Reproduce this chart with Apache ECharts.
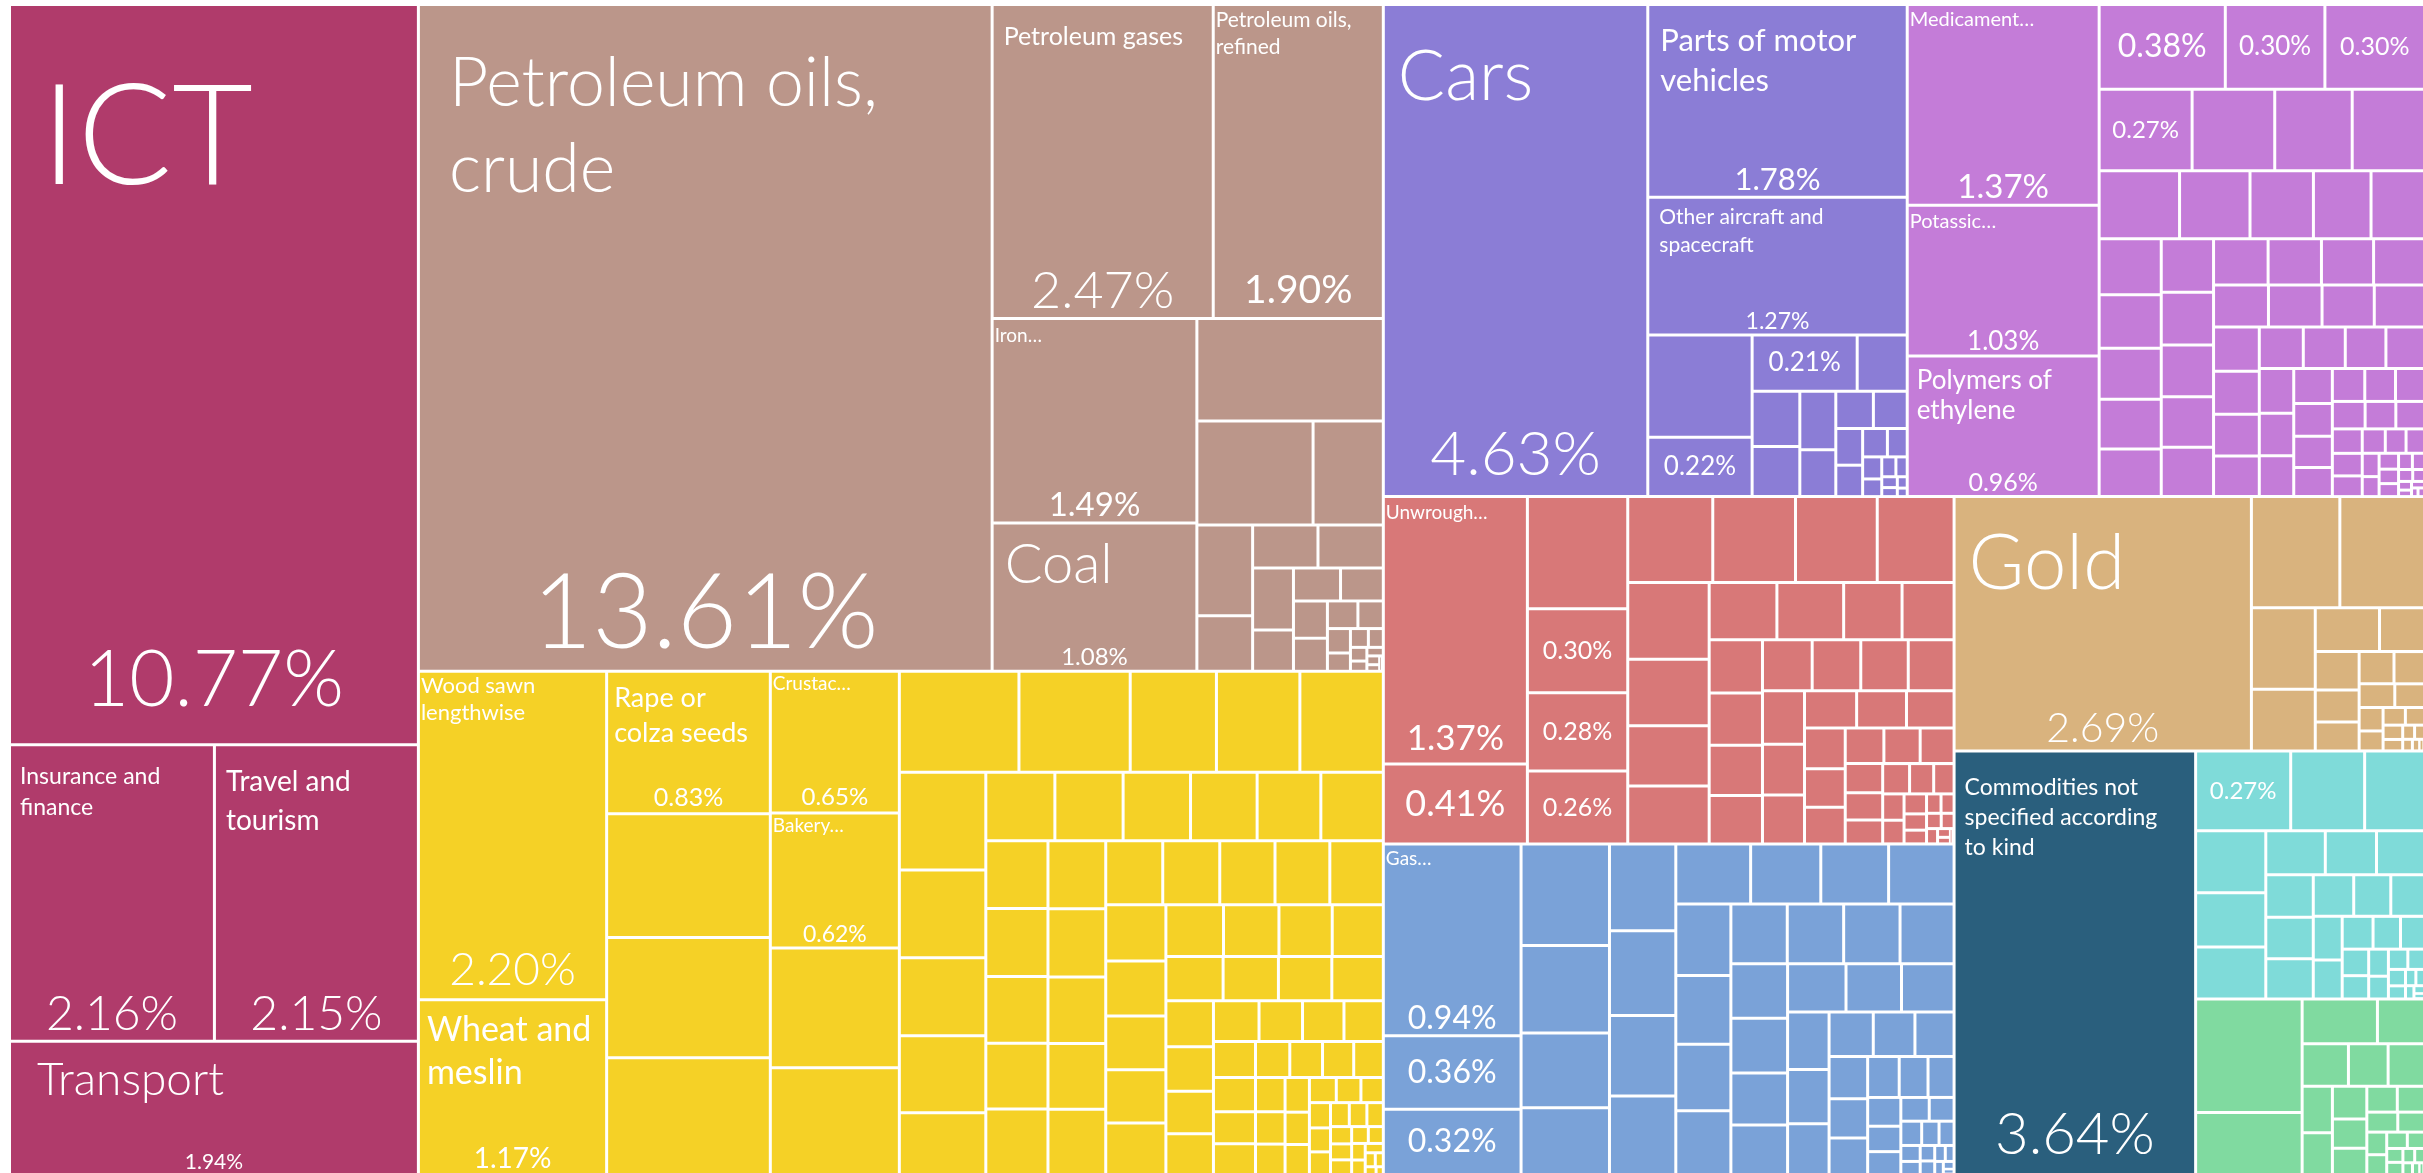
<!DOCTYPE html>
<html>
<head>
<meta charset="utf-8">
<title>Exports treemap</title>
<script src="https://cdn.jsdelivr.net/npm/echarts@6/dist/echarts.min.js"></script>
<style>
  html, body { margin: 0; padding: 0; background: #fff; }
  #chart { width: 2423px; height: 1173px; }
</style>
</head>
<body>
<div id="chart"></div>
<script>
// share of total exports, in %
const servicesNames = ['ICT', 'Insurance and\nfinance', 'Travel and\ntourism', 'Transport']
const servicesValues = [10.77, 2.16, 2.15, 1.94]

const mineralsNames = ['Petroleum oils,\ncrude', 'Petroleum gases', 'Petroleum oils,\nrefined', 'Iron…', 'Coal']
const mineralsValues = [13.61, 2.47, 1.90, 1.49, 1.08, 0.68, 0.43, 0.26, 0.18, 0.11, 0.10, 0.10, 0.09, 0.06, 0.055,
  0.05, 0.045, 0.04, 0.03, 0.025, 0.02, 0.015, 0.012, 0.01, 0.008, 0.006, 0.005, 0.004, 0.003, 0.002]

const vegetableNames = ['Wood sawn\nlengthwise', 'Wheat and\nmeslin', 'Rape or\ncolza seeds', '', '', '', 'Crustac…', 'Bakery…']
const vegetableValues = [2.20, 1.17, 0.83, 0.72, 0.70, 0.68, 0.65, 0.62, 0.55, 0.49, 0.43, 0.40, 0.31, 0.30, 0.30,
  0.30, 0.27, 0.24, 0.237, 0.19, 0.168, 0.166, 0.164, 0.162, 0.155, 0.152, 0.15, 0.15, 0.148, 0.145, 0.145, 0.14,
  0.14, 0.137, 0.135, 0.134, 0.13, 0.13, 0.126, 0.125, 0.122, 0.12, 0.118, 0.115, 0.114, 0.11, 0.106, 0.102, 0.098,
  0.094, 0.09, 0.087, 0.084, 0.081, 0.078, 0.075, 0.072, 0.069, 0.066, 0.063, 0.06, 0.057, 0.054, 0.051, 0.048,
  0.046, 0.044, 0.042, 0.04, 0.038, 0.036, 0.034, 0.032, 0.03, 0.028, 0.026, 0.024, 0.022, 0.02, 0.019, 0.018,
  0.017, 0.016, 0.015, 0.014, 0.013, 0.012, 0.011, 0.01, 0.009, 0.008, 0.007, 0.006, 0.005, 0.004, 0.003, 0.002]

const transportNames = ['Cars', 'Parts of motor\nvehicles', 'Other aircraft and\nspacecraft']
const transportValues = [4.63, 1.78, 1.27, 0.38, 0.22, 0.21, 0.10, 0.094, 0.085, 0.075, 0.06, 0.05, 0.045, 0.035,
  0.03, 0.025, 0.02, 0.015, 0.012, 0.01, 0.008, 0.006, 0.005, 0.004, 0.003]

const chemicalsNames = ['Medicament…', 'Potassic…', 'Polymers of\nethylene']
const chemicalsValues = [1.37, 1.03, 0.96, 0.38, 0.30, 0.30, 0.27, 0.24, 0.225, 0.21, 0.194, 0.17, 0.153, 0.139,
  0.129, 0.124, 0.118, 0.113, 0.11, 0.105, 0.10, 0.098, 0.096, 0.094, 0.092, 0.09, 0.088, 0.086, 0.084, 0.082, 0.08,
  0.078, 0.075, 0.072, 0.07, 0.068, 0.066, 0.065, 0.062, 0.06, 0.057, 0.055, 0.052, 0.05, 0.048, 0.045, 0.043, 0.04,
  0.038, 0.036, 0.034, 0.032, 0.03, 0.028, 0.026, 0.024, 0.022, 0.02, 0.018, 0.016, 0.014, 0.012, 0.011, 0.01,
  0.009, 0.008, 0.007, 0.006, 0.005, 0.004, 0.003, 0.003, 0.002, 0.002]

const metalsNames = ['Unwrough…']
const metalsValues = [1.37, 0.41, 0.40, 0.30, 0.28, 0.26, 0.26, 0.253, 0.25, 0.235, 0.222, 0.193, 0.174, 0.168,
  0.138, 0.136, 0.119, 0.106, 0.101, 0.099, 0.095, 0.092, 0.09, 0.088, 0.086, 0.083, 0.08, 0.076, 0.073, 0.069,
  0.066, 0.063, 0.059, 0.056, 0.053, 0.049, 0.046, 0.043, 0.039, 0.036, 0.032, 0.029, 0.026, 0.022, 0.02, 0.018,
  0.016, 0.013, 0.011, 0.01, 0.009, 0.008, 0.007, 0.006, 0.004, 0.003, 0.002]

const machineryNames = ['Gas…']
const machineryValues = [0.94, 0.36, 0.32, 0.32, 0.275, 0.235, 0.21, 0.205, 0.2, 0.19, 0.185, 0.16, 0.15, 0.145,
  0.14, 0.14, 0.135, 0.13, 0.125, 0.12, 0.12, 0.12, 0.115, 0.11, 0.11, 0.105, 0.1, 0.1, 0.095, 0.09, 0.085, 0.08,
  0.075, 0.07, 0.066, 0.062, 0.058, 0.054, 0.05, 0.046, 0.042, 0.038, 0.034, 0.03, 0.027, 0.024, 0.021, 0.018,
  0.015, 0.013, 0.011, 0.009, 0.008, 0.007, 0.006, 0.005, 0.004, 0.003, 0.002]

const goldNames = ['Gold']
const goldValues = [2.69, 0.35, 0.335, 0.185, 0.14, 0.1, 0.07, 0.06, 0.05, 0.045, 0.04, 0.035, 0.03, 0.025, 0.02,
  0.017, 0.014, 0.012, 0.01, 0.008, 0.006, 0.005, 0.004, 0.003, 0.002]

const commoditiesNames = ['Commodities not\nspecified according\nto kind']
const commoditiesValues = [3.64]

const plasticsNames = []
const plasticsValues = [0.27, 0.21, 0.17, 0.155, 0.135, 0.13, 0.093, 0.08, 0.075, 0.072, 0.07, 0.068, 0.06, 0.055,
  0.05, 0.045, 0.04, 0.036, 0.032, 0.028, 0.025, 0.022, 0.019, 0.016, 0.014, 0.012, 0.01, 0.008, 0.006, 0.005,
  0.004, 0.003, 0.002]

const instrumentsNames = []
const instrumentsValues = [0.43, 0.235, 0.12, 0.075, 0.07, 0.06, 0.055, 0.05, 0.045, 0.04, 0.036, 0.032, 0.028,
  0.025, 0.022, 0.019, 0.016, 0.014, 0.012, 0.01, 0.008, 0.007, 0.006, 0.005, 0.004, 0.003, 0.002]

const FONT = 'Lato, "Open Sans", sans-serif'

const services = { key: 'services', color: '#B03B6B', names: servicesNames, values: servicesValues }
const goodsSectors = [
  { key: 'minerals', color: '#BB968A', names: mineralsNames, values: mineralsValues },
  { key: 'vegetable', color: '#F5D126', names: vegetableNames, values: vegetableValues },
  { key: 'transport', color: '#8B7DD6', names: transportNames, values: transportValues },
  { key: 'chemicals', color: '#C47CD8', names: chemicalsNames, values: chemicalsValues },
  { key: 'metals', color: '#D87878', names: metalsNames, values: metalsValues },
  { key: 'machinery', color: '#7AA2D8', names: machineryNames, values: machineryValues },
  { key: 'gold', color: '#D9B37E', names: goldNames, values: goldValues },
  { key: 'commodities', color: '#2A5F7D', names: commoditiesNames, values: commoditiesValues },
  { key: 'plastics', color: '#7FDBD9', names: plasticsNames, values: plasticsValues },
  { key: 'instruments', color: '#80DAA0', names: instrumentsNames, values: instrumentsValues }
]

// label looks per cell index
// n: [fontSize, lineHeight, padTop, padLeft] for the name
// p: [fontSize, padBottom] for the share under it, c: fontSize of a centred share
const labelStyles = {
  services: {
    0: { n: [140, 170, 48, 30], p: [78, 24] },
    1: { n: [23, 31, 15, 9], p: [48, 1] },
    2: { n: [28, 39, 16, 10], p: [48, 1] },
    3: { n: [46, 55, 10, 26], p: [21, 0] }
  },
  minerals: {
    0: { n: [68, 86, 35, 29], p: [104, 3] },
    1: { n: [25, 30, 16, 10], p: [52, 0] },
    2: { n: [21, 27, 1, 1], p: [39, 7] },
    3: { n: [19, 23, 4, 1], p: [33, 0] },
    4: { n: [56, 66, 7, 11], p: [24, 1] }
  },
  vegetable: {
    0: { n: [22, 27, 0, 1], p: [46, 5] },
    1: { n: [34, 43, 7, 7], p: [28, 0] },
    2: { n: [27, 35, 8, 6], p: [25, 2] },
    6: { n: [19, 23, 0, 1], p: [24, 2] },
    7: { n: [19, 23, 0, 1], p: [23, 0] }
  },
  transport: {
    0: { n: [70, 84, 29, 13], p: [62, 9] },
    1: { n: [31, 40, 15, 11], p: [31, 0] },
    2: { n: [21, 28, 4, 10], p: [23, 0] },
    4: { c: 26 },
    5: { c: 26 }
  },
  chemicals: {
    0: { n: [20, 24, 2, 1], p: [33, 0] },
    1: { n: [20, 24, 3, 1], p: [26, 0] },
    2: { n: [26, 30, 8, 8], p: [25, 0] },
    3: { c: 32 },
    4: { c: 26 },
    5: { c: 25 },
    6: { c: 24 }
  },
  metals: {
    0: { n: [19, 23, 3, 1], p: [35, 6] },
    1: { c: 36 },
    3: { c: 25 },
    4: { c: 25 },
    5: { c: 25 }
  },
  machinery: {
    0: { n: [19, 23, 2, 1], p: [32, 0] },
    1: { c: 32 },
    2: { c: 32 }
  },
  gold: {
    0: { n: [76, 92, 20, 13], p: [41, 0] }
  },
  commodities: {
    0: { n: [23, 30, 20, 9], p: [58, 9] }
  },
  plastics: {
    0: { c: 24 }
  }
}

function nameLabel(s) {
  return {
    show: true,
    position: 'insideTopLeft',
    align: 'left',
    verticalAlign: 'top',
    fontSize: s[0],
    lineHeight: s[1],
    padding: [s[2], 2, 0, s[3]],
    fontWeight: s[0] >= 40 ? 300 : 400
  }
}

function shareLabel(st) {
  if (st.c) {
    return {
      show: true,
      position: 'inside',
      align: 'center',
      verticalAlign: 'middle',
      fontSize: st.c,
      lineHeight: st.c,
      padding: 0,
      fontWeight: 400
    }
  }
  return {
    show: true,
    position: 'insideBottom',
    align: 'center',
    verticalAlign: 'bottom',
    fontSize: st.p[0],
    lineHeight: st.p[0],
    padding: [0, 0, st.p[1], 0],
    fontWeight: st.p[0] >= 40 ? 300 : 400
  }
}

function buildNode(sector, mode) {
  const styles = labelStyles[sector.key] || {}
  const children = sector.values.map((v, i) => {
    const st = styles[i]
    let label = { show: false }
    if (st && mode === 'name' && st.n) label = nameLabel(st.n)
    if (st && mode === 'share' && (st.p || st.c)) label = shareLabel(st)
    return { name: sector.names[i] || '', value: v, label: label }
  })
  const node = { name: sector.key, children: children }
  if (mode === 'name') node.itemStyle = { color: sector.color }
  return node
}

// services on the left, all goods squarified in the rest
function buildTree(mode) {
  return [
    buildNode(services, mode),
    { name: 'goods', children: goodsSectors.map(s => buildNode(s, mode)) }
  ]
}

const common = {
  type: 'treemap',
  left: 11,
  top: 6,
  right: 0,
  bottom: 0,
  squareRatio: 1,
  sort: false,
  roam: false,
  nodeClick: false,
  silent: true,
  animation: false,
  breadcrumb: { show: false },
  upperLabel: { show: false },
  emphasis: { disabled: true }
}

const chart = echarts.init(document.getElementById('chart'))
chart.setOption({
  animation: false,
  textStyle: { fontFamily: FONT },
  series: [
    Object.assign({}, common, {
      itemStyle: { borderWidth: 0, gapWidth: 3, borderColor: '#fff' },
      label: { color: '#fff', fontFamily: FONT, overflow: 'truncate', ellipsis: '…' },
      data: buildTree('name')
    }),
    // same layout again, transparent, only for the shares
    Object.assign({}, common, {
      levels: [{ color: ['rgba(0,0,0,0)'] }],
      itemStyle: { borderWidth: 0, gapWidth: 3, borderColor: 'rgba(0,0,0,0)' },
      label: {
        color: '#fff',
        fontFamily: FONT,
        overflow: 'truncate',
        formatter: function (p) {
          const v = Array.isArray(p.value) ? p.value[0] : p.value
          return Number(v).toFixed(2) + '%'
        }
      },
      data: buildTree('share')
    })
  ]
})
</script>
</body>
</html>
